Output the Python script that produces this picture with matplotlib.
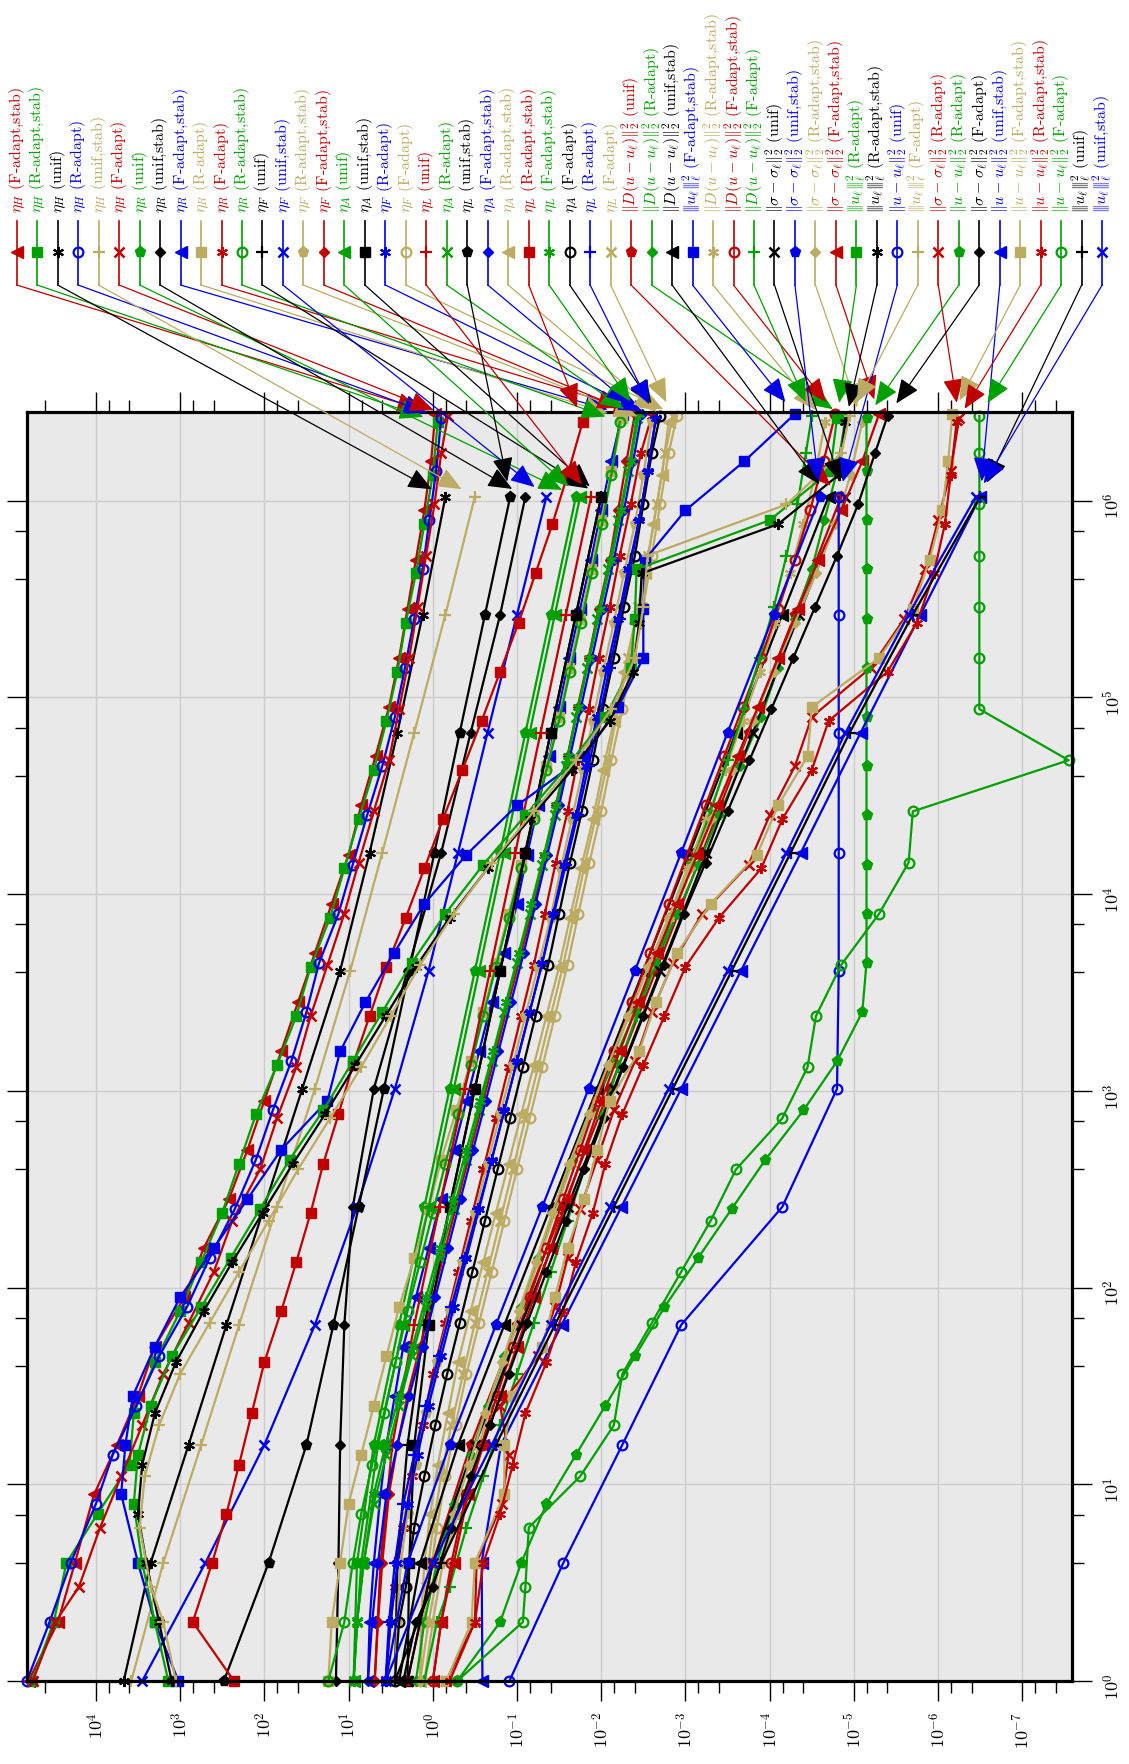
import numpy as np
import matplotlib

matplotlib.use("Agg")
import matplotlib.pyplot as plt
from matplotlib.lines import Line2D
from matplotlib.ticker import FixedLocator, FixedFormatter

plt.rcParams["mathtext.fontset"] = "cm"
plt.rcParams["font.family"] = ["cmr10", "DejaVu Serif"]
plt.rcParams["axes.formatter.use_mathtext"] = True

# ---- refinement runs: log10 of the number of unknowns ----
logN_unif = [0, 0.60, 1.20, 1.81, 2.41, 3.01, 3.61, 4.21, 4.82, 5.42, 6.02]
logN_R = [0, 0.30, 0.60, 0.90, 1.15, 1.40, 1.65, 1.90, 2.15, 2.40, 2.65, 2.90, 3.15,
          3.40, 3.65, 3.90, 4.15, 4.40, 4.65, 4.90, 5.15, 5.40, 5.65, 5.90, 6.15, 6.42]
logN_RS = [0, 0.30, 0.60, 0.85, 1.10, 1.36, 1.62, 1.88, 2.13, 2.38, 2.63, 2.88, 3.13,
           3.38, 3.63, 3.88, 4.13, 4.38, 4.63, 4.88, 5.13, 5.38, 5.63, 5.88, 6.13, 6.40]
logN_F = [0, 0.30, 0.48, 0.78, 1.04, 1.30, 1.56, 1.82, 2.08, 2.34, 2.60, 2.86, 3.12,
          3.38, 3.64, 3.90, 4.16, 4.42, 4.68, 4.94, 5.20, 5.46, 5.72, 5.98, 6.24, 6.43]
logN_FS = [0, 0.30, 0.60, 0.95, 1.20, 1.45, 1.70, 1.95, 2.20, 2.45, 2.70, 2.95, 3.20,
           3.45, 3.70, 3.95, 4.20, 4.45, 4.70, 4.95, 5.20, 5.45, 5.70, 5.95, 6.20, 6.44]

# ---- series values, log10 ----
etaH_FS = [4.80, 4.45, 4.25, 4.02, 3.75, 3.50, 3.30, 2.95, 2.72, 2.42, 2.20, 2.00, 1.80,
           1.60, 1.40, 1.20, 1.00, 0.85, 0.68, 0.52, 0.40, 0.30, 0.20, 0.10, 0.02, -0.03]
etaH_RS = [4.76, 4.50, 4.35, 3.98, 3.60, 3.55, 3.30, 3.00, 2.75, 2.50, 2.30, 2.10, 1.85,
           1.62, 1.45, 1.22, 1.05, 0.88, 0.70, 0.55, 0.42, 0.32, 0.20, 0.10, 0.00, -0.06]
etaH_unif = [3.67, 3.35, 2.90, 2.45, 2.00, 1.55, 1.10, 0.75, 0.42, 0.12, -0.15]
etaH_R = [4.82, 4.55, 4.30, 4.00, 3.80, 3.52, 3.25, 2.92, 2.65, 2.35, 2.10, 1.90, 1.68,
          1.50, 1.35, 1.12, 0.95, 0.78, 0.60, 0.45, 0.33, 0.22, 0.12, 0.04, -0.04, -0.10]
etaH_unif_stab = [3.58, 3.20, 2.75, 2.30, 1.85, 1.40, 0.98, 0.60, 0.22, -0.15, -0.50]
etaH_F = [4.75, 4.48, 4.20, 3.95, 3.70, 3.45, 3.20, 2.90, 2.60, 2.38, 2.05, 1.85, 1.62,
          1.45, 1.25, 1.05, 0.88, 0.70, 0.52, 0.40, 0.28, 0.18, 0.08, -0.02, -0.10, -0.18]

etaR_unif = [0.94, 0.90, 0.70, 0.40, 0.10, -0.20, -0.50, -0.80, -1.10, -1.40, -1.70]
etaR_unif_stab = [1.15, 1.12, 1.10, 1.05, 0.95, 0.70, 0.30, -0.10, -0.45, -0.80, -1.10]
etaR_FS = [0.77, 0.75, 0.70, 0.62, 0.55, 0.45, 0.35, 0.20, 0.05, -0.10, -0.25, -0.40, -0.55,
           -0.70, -0.85, -1.00, -1.12, -1.25, -1.38, -1.50, -1.62, -1.75, -1.88, -2.00, -2.12, -2.25]
etaR_R = [1.24, 1.20, 1.10, 1.00, 0.85, 0.70, 0.55, 0.40, 0.22, 0.05, -0.10, -0.28, -0.45,
          -0.60, -0.75, -0.90, -1.05, -1.20, -1.35, -1.50, -1.62, -1.75, -1.88, -2.00, -2.12, -2.25]
etaR_F = [0.56, 0.50, 0.45, 0.35, 0.25, 0.12, 0.00, -0.15, -0.30, -0.45, -0.60, -0.75, -0.90,
          -1.05, -1.20, -1.33, -1.46, -1.60, -1.72, -1.85, -1.97, -2.10, -2.22, -2.35, -2.47, -2.60]
etaR_RS = [1.24, 1.05, 0.95, 0.85, 0.72, 0.58, 0.44, 0.30, 0.15, 0.00, -0.15, -0.30, -0.45,
           -0.60, -0.75, -0.90, -1.05, -1.20, -1.35, -1.50, -1.63, -1.76, -1.89, -2.01, -2.12, -2.22]

etaF_unif = [0.45, 0.42, 0.30, 0.10, -0.20, -0.50, -0.80, -1.10, -1.40, -1.70, -2.00]
etaF_unif_stab = [3.45, 2.70, 2.00, 1.40, 0.90, 0.45, 0.05, -0.30, -0.65, -1.00, -1.35]
etaF_RS = [0.45, 0.42, 0.38, 0.30, 0.20, 0.08, -0.05, -0.20, -0.35, -0.50, -0.65, -0.80, -0.95,
           -1.10, -1.25, -1.40, -1.52, -1.65, -1.78, -1.90, -2.02, -2.15, -2.27, -2.40, -2.50, -2.60]
etaF_FS = [0.69, 0.65, 0.60, 0.52, 0.42, 0.30, 0.15, 0.00, -0.15, -0.30, -0.45, -0.60, -0.75,
           -0.90, -1.05, -1.20, -1.33, -1.46, -1.60, -1.72, -1.85, -1.97, -2.10, -2.20, -2.30, -2.40]
etaF_R = [0.56, 0.50, 0.42, 0.30, 0.18, 0.05, -0.10, -0.25, -0.40, -0.55, -0.70, -0.85, -1.00,
          -1.15, -1.30, -1.43, -1.56, -1.70, -1.82, -1.95, -2.07, -2.20, -2.32, -2.45, -2.55, -2.65]
etaF_F = [0.15, 0.12, 0.05, -0.05, -0.15, -0.27, -0.40, -0.55, -0.70, -0.85, -1.00, -1.15, -1.30,
          -1.45, -1.60, -1.73, -1.86, -2.00, -2.12, -2.25, -2.37, -2.50, -2.60, -2.70, -2.80, -2.90]

etaA_unif = [0.94, 0.85, 0.65, 0.35, 0.05, -0.25, -0.55, -0.85, -1.15, -1.45, -1.75]
etaA_unif_stab = [0.30, 0.28, 0.22, 0.05, -0.20, -0.50, -0.80, -1.10, -1.40, -1.70, -2.00]
etaA_R = [0.94, 0.90, 0.82, 0.70, 0.55, 0.40, 0.25, 0.08, -0.08, -0.25, -0.40, -0.55, -0.70,
          -0.85, -1.00, -1.15, -1.30, -1.45, -1.58, -1.70, -1.83, -1.95, -2.08, -2.20, -2.32, -2.42]
etaA_FS = [0.77, 0.72, 0.65, 0.55, 0.42, 0.28, 0.12, -0.03, -0.18, -0.33, -0.48, -0.63, -0.78,
           -0.93, -1.08, -1.22, -1.36, -1.50, -1.63, -1.76, -1.89, -2.02, -2.15, -2.27, -2.38, -2.48]
etaA_RS = [0.15, 0.14, 0.10, 0.03, -0.06, -0.18, -0.30, -0.45, -0.60, -0.75, -0.90, -1.05, -1.20,
           -1.35, -1.50, -1.63, -1.76, -1.90, -2.02, -2.15, -2.27, -2.40, -2.52, -2.62, -2.72, -2.80]
etaA_F = [0.45, 0.40, 0.32, 0.22, 0.10, -0.03, -0.17, -0.32, -0.47, -0.62, -0.77, -0.92, -1.07,
          -1.22, -1.37, -1.50, -1.63, -1.77, -1.90, -2.02, -2.15, -2.27, -2.40, -2.50, -2.60, -2.70]

etaL_unif = [0.69, 0.62, 0.48, 0.22, -0.08, -0.38, -0.68, -0.98, -1.28, -1.58, -1.88]
etaL_unif_stab = [2.48, 1.95, 1.50, 1.18, 0.88, 0.58, 0.28, -0.02, -0.32, -0.62, -0.92]
etaL_RS = [2.36, 2.85, 2.62, 2.45, 2.30, 2.15, 2.00, 1.80, 1.62, 1.45, 1.30, 1.12, 0.95,
           0.75, 0.55, 0.32, 0.10, -0.12, -0.35, -0.58, -0.80, -1.02, -1.22, -1.42, -1.60, -1.78]
etaL_FS = [0.94, 0.90, 0.82, 0.70, 0.56, 0.40, 0.24, 0.08, -0.08, -0.24, -0.40, -0.56, -0.72,
           -0.87, -1.02, -1.17, -1.32, -1.46, -1.60, -1.73, -1.86, -1.99, -2.12, -2.24, -2.35, -2.45]
etaL_R = [0.56, 0.52, 0.45, 0.35, 0.22, 0.08, -0.07, -0.22, -0.38, -0.54, -0.70, -0.85, -1.00,
          -1.15, -1.30, -1.44, -1.58, -1.72, -1.85, -1.98, -2.10, -2.22, -2.34, -2.45, -2.55, -2.65]
etaL_F = [0.15, 0.13, 0.08, 0.00, -0.10, -0.22, -0.36, -0.50, -0.65, -0.80, -0.95, -1.10, -1.25,
          -1.40, -1.55, -1.68, -1.81, -1.95, -2.08, -2.20, -2.32, -2.44, -2.56, -2.66, -2.76, -2.85]

D_unif = [0.30, 0.00, -0.45, -1.00, -1.55, -2.10, -2.65, -3.20, -3.75, -4.30, -4.85]
D_R = [0.20, 0.10, -0.05, -0.25, -0.45, -0.65, -0.85, -1.05, -1.25, -1.45, -1.65, -1.90, -2.15,
       -2.40, -2.65, -2.90, -3.15, -3.40, -3.65, -3.90, -4.10, -4.30, -4.50, -4.65, -4.80, -4.90]
D_unif_stab = [0.40, 0.15, -0.30, -0.85, -1.40, -1.95, -2.50, -3.05, -3.60, -4.15, -4.70]
D_RS = [0.10, 0.00, -0.12, -0.30, -0.48, -0.66, -0.85, -1.05, -1.25, -1.45, -1.65, -1.88, -2.10,
        -2.33, -2.56, -2.80, -3.02, -3.25, -3.47, -3.68, -3.88, -4.06, -4.24, -4.40, -4.54, -4.66]
D_FS = [0.00, -0.10, -0.22, -0.40, -0.58, -0.76, -0.95, -1.15, -1.35, -1.55, -1.75, -1.95, -2.15,
        -2.37, -2.58, -2.80, -3.02, -3.24, -3.46, -3.68, -3.90, -4.10, -4.30, -4.48, -4.64, -4.78]
D_F = [0.10, -0.05, -0.20, -0.40, -0.60, -0.80, -1.00, -1.20, -1.40, -1.60, -1.80, -2.00, -2.20,
       -2.42, -2.64, -2.86, -3.08, -3.30, -3.50, -3.70, -3.88, -4.05, -4.20, -4.33, -4.43, -4.50]

sig_unif = [0.30, 0.00, -0.50, -1.05, -1.60, -2.15, -2.70, -3.25, -3.80, -4.35, -4.90]
sig_unif_stab = [0.56, 0.30, -0.20, -0.75, -1.30, -1.85, -2.40, -2.95, -3.50, -4.05, -4.60]
sig_RS = [0.15, 0.05, -0.08, -0.25, -0.43, -0.62, -0.82, -1.02, -1.22, -1.42, -1.62, -1.85, -2.08,
          -2.32, -2.56, -2.80, -3.05, -3.30, -3.55, -3.80, -4.05, -4.30, -4.55, -4.78, -4.96, -5.10]
sig_FS = [0.00, -0.10, -0.25, -0.42, -0.60, -0.80, -1.00, -1.20, -1.40, -1.60, -1.80, -2.00, -2.22,
          -2.44, -2.66, -2.90, -3.14, -3.38, -3.62, -3.86, -4.10, -4.34, -4.58, -4.85, -5.10, -5.30]
sig_R = [-0.16, -0.50, -0.52, -0.82, -0.90, -0.80, -1.25, -1.45, -1.60, -1.75, -1.95, -2.15, -2.40,
         -2.60, -2.85, -3.20, -3.75, -4.00, -4.30, -4.50, -5.20, -5.60, -5.85, -6.00, -6.15, -6.25]
sig_F = [0.35, 0.20, 0.00, -0.22, -0.45, -0.68, -0.90, -1.12, -1.35, -1.58, -1.80, -2.03, -2.26,
         -2.50, -2.74, -2.98, -3.24, -3.50, -3.76, -4.02, -4.28, -4.54, -4.80, -5.05, -5.25, -5.40]

err_unif = [-0.91, -1.55, -2.25, -2.95, -4.15, -4.80, -4.82, -4.82, -4.82, -4.82, -4.82]
err_R = [-0.29, -0.80, -1.05, -1.35, -1.70, -2.05, -2.40, -2.75, -3.15, -3.55, -3.95, -4.40, -4.80,
         -5.10, -5.15, -5.15, -5.15, -5.15, -5.15, -5.15, -5.15, -5.15, -5.15, -5.15, -5.15, -5.15]
err_unif_stab = [-0.59, -0.58, -0.81, -1.53, -2.24, -2.95, -3.66, -4.37, -5.08, -5.79, -6.50]
err_FS = [-0.16, -0.46, -0.50, -0.85, -0.85, -0.95, -1.30, -1.45, -1.60, -1.80, -1.95, -2.10, -2.45,
          -2.65, -2.90, -3.30, -3.85, -4.10, -4.45, -4.50, -5.30, -5.70, -5.90, -6.05, -6.12, -6.17]
err_RS = [-0.20, -0.50, -0.60, -0.80, -0.95, -1.10, -1.35, -1.55, -1.70, -1.90, -2.05, -2.25, -2.50,
          -2.75, -3.00, -3.40, -3.90, -4.15, -4.50, -4.70, -5.40, -5.75, -5.95, -6.08, -6.15, -6.22]
err_F = [-0.29, -1.07, -1.10, -1.14, -1.75, -2.15, -2.25, -2.60, -2.95, -3.30, -3.60, -4.15, -4.45,
         -4.55, -4.85, -5.30, -5.65, -5.70, -7.55, -6.49, -6.49, -6.49, -6.49, -6.49, -6.49, -6.49]

ul_FS = [3.02, 3.30, 3.50, 3.70, 3.65, 3.56, 3.30, 3.00, 2.60, 2.20, 1.80, 1.25, 1.10,
         0.80, 0.46, 0.10, -0.40, -1.00, -1.80, -2.20, -2.50, -2.50, -2.52, -3.00, -3.70, -4.30]
ul_R = [3.14, 3.30, 3.45, 3.55, 3.50, 3.35, 3.10, 2.75, 2.40, 2.05, 1.70, 1.30, 0.95,
        0.60, 0.25, -0.15, -0.60, -1.10, -1.60, -2.05, -2.35, -2.40, -2.42, -4.00, -4.72, -4.80]
ul_RS = [3.10, 3.25, 3.40, 3.50, 3.45, 3.30, 3.05, 2.72, 2.38, 2.02, 1.66, 1.28, 0.92,
         0.56, 0.20, -0.20, -0.65, -1.15, -1.65, -2.10, -2.38, -2.45, -2.48, -4.10, -4.82, -4.90]
ul_F = [3.05, 3.20, 3.35, 3.48, 3.42, 3.25, 3.00, 2.65, 2.30, 1.95, 1.60, 1.22, 0.85,
        0.50, 0.15, -0.25, -0.70, -1.20, -1.70, -2.12, -2.40, -2.50, -2.55, -4.20, -4.85, -4.95]
ul_unif = [0.45, -0.10, -0.75, -1.45, -2.15, -2.85, -3.55, -4.25, -4.95, -5.70, -6.50]
ul_unif_stab = [0.56, 0.00, -0.70, -1.40, -2.10, -2.80, -3.50, -4.20, -4.90, -5.65, -6.45]

# ---- labels ----
runs = {
    "unif": ("(unif)", logN_unif), "unif_stab": ("(unif,stab)", logN_unif),
    "R": ("(R-adapt)", logN_R), "RS": ("(R-adapt,stab)", logN_RS),
    "F": ("(F-adapt)", logN_F), "FS": ("(F-adapt,stab)", logN_FS),
}
qH, qR, qF = r"$\eta_H$", r"$\eta_R$", r"$\eta_F$"
qA, qL = r"$\eta_A$", r"$\eta_L$"
qD = r"$\Vert D(u-u_\ell)\Vert_2^2$"
qU = r"$|\!|\!|u_\ell|\!|\!|_\ell^2$"
qS = r"$\Vert\sigma-\sigma_\ell\Vert_2^2$"
qE = r"$\Vert u-u_\ell\Vert_2^2$"

# legend order = plotting order
series = [
    (qH, "FS", etaH_FS), (qH, "RS", etaH_RS), (qH, "unif", etaH_unif), (qH, "R", etaH_R),
    (qH, "unif_stab", etaH_unif_stab), (qH, "F", etaH_F),
    (qR, "unif", etaR_unif), (qR, "unif_stab", etaR_unif_stab), (qR, "FS", etaR_FS),
    (qR, "R", etaR_R), (qR, "F", etaR_F), (qR, "RS", etaR_RS),
    (qF, "unif", etaF_unif), (qF, "unif_stab", etaF_unif_stab), (qF, "RS", etaF_RS),
    (qF, "FS", etaF_FS), (qA, "unif", etaA_unif), (qA, "unif_stab", etaA_unif_stab),
    (qF, "R", etaF_R), (qF, "F", etaF_F), (qL, "unif", etaL_unif), (qA, "R", etaA_R),
    (qL, "unif_stab", etaL_unif_stab), (qA, "FS", etaA_FS), (qA, "RS", etaA_RS),
    (qL, "RS", etaL_RS), (qL, "FS", etaL_FS), (qA, "F", etaA_F), (qL, "R", etaL_R),
    (qL, "F", etaL_F),
    (qD, "unif", D_unif), (qD, "R", D_R), (qD, "unif_stab", D_unif_stab), (qU, "FS", ul_FS),
    (qD, "RS", D_RS), (qD, "FS", D_FS), (qD, "F", D_F),
    (qS, "unif", sig_unif), (qS, "unif_stab", sig_unif_stab), (qS, "RS", sig_RS),
    (qS, "FS", sig_FS), (qU, "R", ul_R), (qU, "RS", ul_RS), (qE, "unif", err_unif),
    (qU, "F", ul_F), (qS, "R", sig_R), (qE, "R", err_R), (qS, "F", sig_F),
    (qE, "unif_stab", err_unif_stab), (qE, "FS", err_FS), (qE, "RS", err_RS),
    (qE, "F", err_F), (qU, "unif", ul_unif), (qU, "unif_stab", ul_unif_stab),
]

colors = ["#c00000", "#00a000", "#000000", "#0000e6", "#bcab62"]
marks = [
    dict(marker="<", ms=8), dict(marker="s", ms=7.5), dict(marker=(6, 2, 0), ms=8, mew=1.5),
    dict(marker="o", ms=7, mfc="none", mew=1.6), dict(marker="+", ms=9, mew=1.6),
    dict(marker="x", ms=6.5, mew=1.8), dict(marker="p", ms=8), dict(marker="D", ms=5.5),
]

W, H = 1129, 1765
fig = plt.figure(figsize=(W / 100, H / 100), dpi=100)
ax = fig.add_axes([27 / W, (H - 1682) / H, (1072 - 27) / W, (1682 - 413) / H])
ax.set_facecolor("#e9e9e9")
ax.set_xscale("log")
ax.set_yscale("log")
ax.set_xlim(10 ** 4.818, 10 ** -7.59)
ax.set_ylim(1, 10 ** 6.45)

xmaj = [10.0 ** k for k in range(-7, 5)]
ymaj = [10.0 ** k for k in range(0, 7)]
ax.xaxis.set_major_locator(FixedLocator(xmaj))
ax.xaxis.set_major_formatter(FixedFormatter([r"$10^{%d}$" % k for k in range(-7, 5)]))
ax.yaxis.set_major_locator(FixedLocator(ymaj))
ax.yaxis.set_major_formatter(FixedFormatter([r"$10^{%d}$" % k for k in range(0, 7)]))
ax.xaxis.set_minor_locator(FixedLocator([f * 10.0 ** k for k in range(-7, 6) for f in (0.4, 0.7)]))
ax.yaxis.set_minor_locator(FixedLocator([f * 10.0 ** k for k in range(1, 8) for f in (0.4, 0.7)]))
ax.xaxis.set_minor_formatter(FixedFormatter([]))
ax.yaxis.set_minor_formatter(FixedFormatter([]))

ax.tick_params(which="both", direction="out", width=1.0, top=True, bottom=True, left=True,
               right=True, labelleft=False, labelright=True, labeltop=False, labelbottom=True)
ax.tick_params(which="major", length=14.5, labelsize=13, pad=7)
ax.tick_params(which="minor", length=8.5)
ax.tick_params(axis="both", labelrotation=90)
ax.grid(True, which="major", color="#cdcdcd", lw=1.0)
ax.set_axisbelow(True)
for sp in ax.spines.values():
    sp.set_linewidth(2.3)

for i, (q, run, vals) in enumerate(series):
    run_label, grid = runs[run]
    c = colors[i % 5]
    mk = dict(marks[i % 8])
    mk.setdefault("mfc", c)
    ax.plot(10.0 ** np.array(vals), 10.0 ** np.array(grid), color=c, lw=1.6, mec=c,
            clip_on=False, zorder=2, **mk)

    # legend column with a pin line down to the last point
    xc = 16.7 + 20.48 * i
    fig.text(xc / W, 1 - 213 / H, q + " " + run_label, rotation=90, rotation_mode="anchor",
             ha="left", va="center", color=c, fontsize=11.5)
    fig.add_artist(Line2D([xc / W, xc / W], [1 - 222 / H, 1 - 286 / H], color=c, lw=1.2,
                          transform=fig.transFigure))
    fig.add_artist(Line2D([xc / W], [1 - 253 / H], color=c, lw=0, mec=c,
                          transform=fig.transFigure, **mk))
    ax.annotate("", xy=(10.0 ** vals[-1], 10.0 ** grid[-1]), xycoords="data",
                xytext=(xc / W, 1 - 286 / H), textcoords="figure fraction",
                arrowprops=dict(arrowstyle="-|>,head_length=0.75,head_width=0.32", color=c,
                                lw=0.9, shrinkA=0, shrinkB=11, mutation_scale=20),
                annotation_clip=False, zorder=4)

fig.savefig("out.png", dpi=100)
